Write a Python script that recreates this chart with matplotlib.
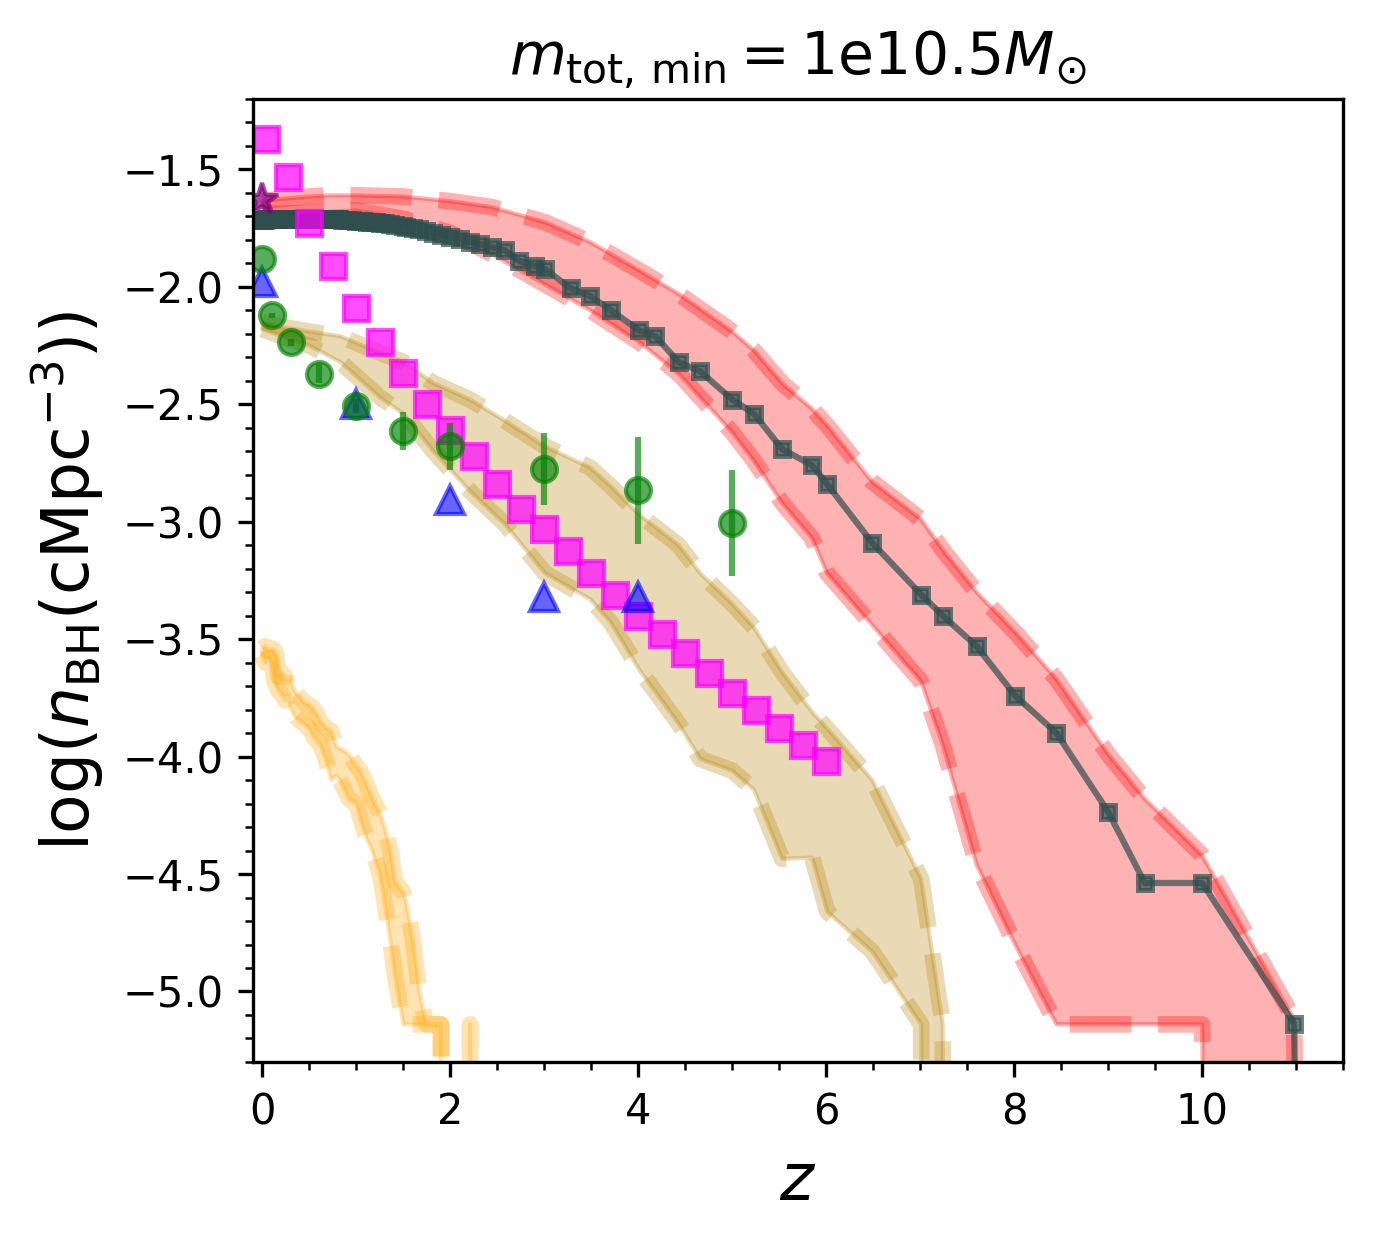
import numpy as np
import matplotlib
matplotlib.use("Agg")
from matplotlib import pyplot as plt
from matplotlib.ticker import MultipleLocator

# simulation snapshot redshifts and BH number density (black line)
z_snap = [0.00, 0.01, 0.02, 0.03, 0.05, 0.06, 0.07, 0.08,
          0.10, 0.11, 0.13, 0.14, 0.15, 0.17, 0.18, 0.20,
          0.21, 0.23, 0.24, 0.26, 0.27, 0.30, 0.31, 0.33,
          0.35, 0.36, 0.38, 0.40, 0.42, 0.44, 0.46, 0.48,
          0.50,
          0.52, 0.55, 0.58, 0.60, 0.62, 0.64, 0.68, 0.70,
          0.73, 0.76, 0.79, 0.82, 0.85, 0.89, 0.92, 0.95,
          1.00,
          1.04, 1.07, 1.11, 1.15, 1.21, 1.25, 1.30, 1.36, 1.41, 1.50,
          1.53, 1.60, 1.67, 1.74, 1.82, 1.90, 2.00,
          2.10, 2.21, 2.32, 2.44, 2.58, 2.73, 2.90, 3.01,
          3.28, 3.49, 3.71, 4.01, 4.18, 4.43, 4.66, 5.00,
          5.23, 5.53, 5.85, 6.01, 6.49, 7.01, 7.24, 7.60,
          8.01, 8.45, 9.00, 9.39, 10.00, 10.98, 11.98]
n_snap = [-1.715, -1.715, -1.714, -1.714, -1.713, -1.713, -1.713, -1.712,
          -1.712, -1.712, -1.711, -1.711, -1.711, -1.710, -1.710, -1.710,
          -1.710, -1.709, -1.709, -1.709, -1.709, -1.709, -1.709, -1.709,
          -1.709, -1.709, -1.709, -1.709, -1.709, -1.709, -1.709, -1.709,
          -1.709,
          -1.709, -1.709, -1.709, -1.710, -1.710, -1.710, -1.711, -1.711,
          -1.712, -1.712, -1.713, -1.713, -1.714, -1.715, -1.716, -1.717,
          -1.718,
          -1.719, -1.720, -1.722, -1.723, -1.725, -1.727, -1.730, -1.733, -1.736, -1.741,
          -1.743, -1.748, -1.755, -1.762, -1.770, -1.777, -1.787,
          -1.797, -1.808, -1.818, -1.830, -1.845, -1.889, -1.910, -1.925,
          -2.006, -2.040, -2.100, -2.185, -2.210, -2.320, -2.360, -2.480,
          -2.540, -2.690, -2.760, -2.840, -3.090, -3.310, -3.400, -3.530,
          -3.740, -3.900, -4.235, -4.538, -4.538, -5.137, -40.0]

# red band
z_red = [0.00, 0.20, 0.50, 0.70, 1.00, 1.50, 2.00, 2.44, 3.01, 3.49, 4.01, 4.43, 5.00, 5.23,
         5.53, 5.85, 6.01, 6.49, 7.01, 7.24, 7.60, 8.01, 8.45, 9.00, 9.39, 10.00, 10.98, 11.98]
red_hi = [-1.635, -1.625, -1.615, -1.61, -1.61, -1.615, -1.635, -1.66, -1.725, -1.81, -1.93, -2.03,
          -2.19, -2.27, -2.41, -2.52, -2.59, -2.83, -2.99, -3.12, -3.30, -3.47, -3.67, -3.99,
          -4.18, -4.42, -5.12, -40.0]
red_lo = [-1.69, -1.688, -1.685, -1.68, -1.675, -1.71, -1.77, -1.86, -1.99, -2.10, -2.235, -2.37,
          -2.62, -2.74, -2.92, -3.07, -3.22, -3.44, -3.68, -3.95, -4.46, -4.80, -5.14, -5.14,
          -5.14, -5.14, -40.0, -40.0]

# tan band
z_tan = [0.00, 0.20, 0.50, 0.83, 1.25, 1.50, 1.82, 2.21, 2.58, 3.01, 3.49, 3.71, 4.01, 4.43,
         4.66, 5.00, 5.23, 5.53, 5.85, 6.01, 6.49, 7.01, 7.24, 7.60]
tan_hi = [-2.15, -2.17, -2.19, -2.21, -2.28, -2.32, -2.41, -2.48, -2.57, -2.68, -2.77, -2.85,
          -2.97, -3.10, -3.22, -3.35, -3.45, -3.64, -3.81, -3.88, -4.10, -4.52, -5.14, -40.0]
tan_lo = [-2.18, -2.21, -2.25, -2.32, -2.47, -2.54, -2.70, -2.87, -3.01, -3.22, -3.33, -3.43,
          -3.63, -3.86, -4.01, -4.06, -4.14, -4.435, -4.43, -4.66, -4.83, -5.14, -40.0, -40.0]

# orange band
z_org = [0.00, 0.03, 0.06, 0.10, 0.13, 0.15, 0.17, 0.20, 0.24, 0.27, 0.30, 0.33, 0.38, 0.44,
         0.50, 0.55, 0.62, 0.68, 0.73, 0.79, 0.85, 0.92, 1.00, 1.04, 1.11, 1.15, 1.21, 1.25,
         1.30, 1.36, 1.41, 1.50, 1.53, 1.60, 1.67, 1.74, 1.82, 1.90, 2.00, 2.10, 2.21, 2.32]
org_hi = [-3.54, -3.53, -3.55, -3.54, -3.55, -3.57, -3.66, -3.64, -3.66, -3.69, -3.66, -3.71,
          -3.74, -3.77, -3.78, -3.80, -3.85, -3.88, -3.89, -3.96, -3.97, -3.99, -4.04, -4.06,
          -4.12, -4.16, -4.21, -4.24, -4.30, -4.40, -4.53, -4.58, -4.62, -4.78, -5.00, -5.14,
          -5.14, -5.14, -40.0, -40.0, -5.14, -40.0]
org_lo = [-3.57, -3.60, -3.58, -3.60, -3.68, -3.70, -3.72, -3.73, -3.76, -3.74, -3.79, -3.82,
          -3.84, -3.86, -3.88, -3.92, -3.95, -4.02, -4.10, -4.08, -4.12, -4.18, -4.20, -4.26,
          -4.35, -4.38, -4.45, -4.50, -4.62, -4.78, -4.93, -5.14, -5.14, -5.14, -5.14, -5.14,
          -5.14, -5.14, -40.0, -40.0, -40.0, -40.0]

# observational points
z_mag = [0.04, 0.27, 0.50, 0.75, 1.00, 1.25, 1.50, 1.75, 2.00, 2.25, 2.50, 2.75, 3.00,
         3.25, 3.50, 3.75, 4.00, 4.25, 4.50, 4.75, 5.00, 5.25, 5.50, 5.75, 6.00]
n_mag = [-1.37, -1.53, -1.73, -1.91, -2.09, -2.235, -2.365, -2.50, -2.61, -2.72, -2.84, -2.945,
         -3.03, -3.125, -3.22, -3.31, -3.40, -3.48, -3.56, -3.645, -3.73, -3.80, -3.88, -3.95, -4.02]

z_grn = [0.0, 0.1, 0.3, 0.6, 1.0, 1.5, 2.0, 3.0, 4.0, 5.0]
n_grn = [-1.88, -2.121, -2.236, -2.37, -2.508, -2.614, -2.678, -2.776, -2.866, -3.006]
e_grn = [0.0, 0.01, 0.015, 0.04, 0.03, 0.08, 0.10, 0.153, 0.227, 0.225]

z_blu = [0.0, 1.0, 2.0, 3.0, 4.0]
n_blu = [-1.98, -2.50, -2.906, -3.32, -3.32]

z_star = [0.0]
n_star = [-1.632]


fig = plt.figure(figsize=(1373 / 300, 1239 / 300), dpi=300)
ax = fig.add_axes([0.1843, 0.1429, 0.7939, 0.7772])


def band(z, lo, hi, c):
    ax.fill_between(z, lo, hi, color=c, alpha=0.3)
    ax.plot(z, lo, '--', color=c, lw=4, alpha=0.3)
    ax.plot(z, hi, '--', color=c, lw=4, alpha=0.3)


band(z_org, org_lo, org_hi, 'orange')
band(z_tan, tan_lo, tan_hi, 'darkgoldenrod')
band(z_red, red_lo, red_hi, 'red')

ax.plot(z_snap, n_snap, '-s', color='darkslategray', alpha=0.7, lw=1.5, ms=3.5, mew=1.2)

ax.plot(z_mag, n_mag, 's', color='magenta', alpha=0.7, ms=6, mew=1)
ax.errorbar(z_grn, n_grn, yerr=e_grn, fmt='o', color='green', alpha=0.65,
            ms=6, mew=1, elinewidth=1.5)
ax.plot(z_blu, n_blu, '^', color='blue', alpha=0.6, ms=6.5, mew=1)
ax.plot(z_star, n_star, '*', color='purple', alpha=0.7, ms=8)

ax.set_xlim(-0.1, 11.5)
ax.set_ylim(-5.3, -1.2)
ax.xaxis.set_minor_locator(MultipleLocator(0.5))
ax.yaxis.set_minor_locator(MultipleLocator(0.1))
ax.tick_params(labelsize=10)

ax.set_xlabel(r'$z$', fontsize=15.5)
ax.set_ylabel(r'$\log(n_{\rm BH}({\rm cMpc}^{-3}))$', fontsize=15.5)
ax.set_title(r'$m_{\rm tot,\,min} = 1{\rm e}10.5 M_{\odot}$', fontsize=14)

fig.savefig('out.png', dpi=300)
